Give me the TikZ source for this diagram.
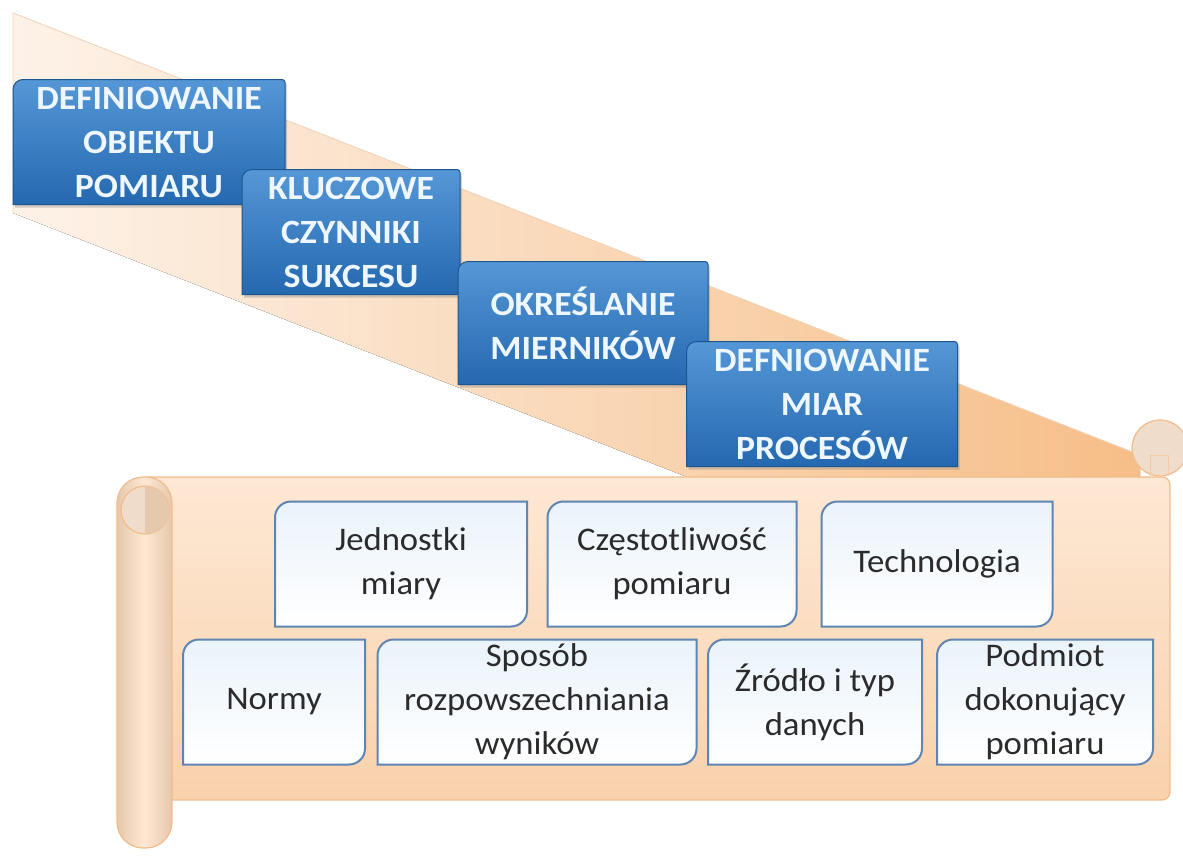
\documentclass[tikz,border=0pt]{standalone}
\usepackage{fontspec}
\setmainfont{Carlito}[FakeStretch=1.05]
\usetikzlibrary{backgrounds, shadows}
\definecolor{boxtop}{HTML}{5597D6}
\definecolor{boxbot}{HTML}{2468B0}
\definecolor{boxedge}{HTML}{1D558F}
\definecolor{stagetext}{HTML}{EEF6FF}
\definecolor{itemedge}{HTML}{5F85B3}
\definecolor{itemtop}{HTML}{EAF3FB}
\definecolor{itemtext}{HTML}{2B2B2B}
\definecolor{bandlight}{HTML}{FDF2E8}
\definecolor{banddark}{HTML}{F6BE88}
\definecolor{scrollfill}{HTML}{FDE8D4}
\definecolor{scrolldark}{HTML}{F9D1AC}
\definecolor{scrolledge}{HTML}{F2BC8A}
\definecolor{rollfill}{HTML}{EFDCCB}
\definecolor{rolldark}{HTML}{E6C8AC}

\tikzset{
  stage/.style={text=stagetext, font=\fontsize{34}{44}\selectfont\bfseries,
    align=center, inner sep=0pt, outer sep=0pt, minimum height=125pt},
  item/.style={text=itemtext, font=\fontsize{33}{44}\selectfont,
    align=center, inner sep=0pt, outer sep=0pt, minimum height=125pt},
  stagebox/.style={draw=boxedge, line width=1pt, top color=boxtop, bottom color=boxbot,
    drop shadow={shadow xshift=2pt, shadow yshift=-3pt, opacity=0.35}},
  itembox/.style={draw=itemedge, line width=2pt, top color=itemtop, bottom color=white},
  rolledge/.style={draw=scrolledge, line width=1.2pt},
}

\begin{document}
\begin{tikzpicture}[x=1pt, y=-1pt]
  \useasboundingbox (0,0) rectangle (1183,855);
  % etapy (niebieskie)
  \node[stage, minimum width=272pt] (defobj) at (149,142) {DEFINIOWANIE\\OBIEKTU\\POMIARU};
  \node[stage, minimum width=218pt] (kcs) at (351,232) {KLUCZOWE\\CZYNNIKI\\SUKCESU};
  \node[stage, minimum width=250pt, minimum height=123pt] (okr) at (583,323) {OKREŚLANIE\\MIERNIKÓW};
  \node[stage, minimum width=271pt] (defmiar) at (822,404) {DEFNIOWANIE\\MIAR\\PROCESÓW};
  % elementy na zwoju
  \node[item, minimum width=252pt] (jedn) at (401,564) {Jednostki\\miary};
  \node[item, minimum width=249pt] (czest) at (672,564) {Częstotliwość\\pomiaru};
  \node[item, minimum width=231pt] (tech) at (937,564) {Technologia};
  \node[item, minimum width=182pt] (normy) at (274,702) {Normy};
  \node[item, minimum width=319pt] (sposob) at (537,702) {Sposób\\rozpowszechniania\\wyników};
  \node[item, minimum width=214pt] (zrodlo) at (815,702) {Źródło i typ\\danych};
  \node[item, minimum width=216pt] (podmiot) at (1045,702) {Podmiot\\dokonujący\\pomiaru};

  \begin{scope}[on background layer]
    % wstega w tle
    \fill[left color=bandlight, right color=banddark]
      (13,13) -- (1140,455) -- (1140,477) -- (687,477) -- (13,213) -- cycle;
    \draw[scrolledge!60, line width=0.8pt] (13,213) -- (13,13) -- (1140,455);
    % zwoj
    \draw[rolledge, top color=scrollfill, bottom color=scrolldark, rounded corners=8pt]
      (140,477) rectangle (1170,800);
    \draw[scrolledge!70, line width=1pt] (150,783) -- (1165,783);
    \draw[rolledge, fill=rollfill] (1160,448) circle[radius=28pt];
    \draw[scrolledge!80, line width=1pt] (1150,476) -- (1150,455) -- (1168,455) -- (1168,476);
    \draw[rolledge, left color=rolldark, right color=rolldark, middle color=scrollfill,
      rounded corners=26pt] (117,477) rectangle (172,848);
    \draw[rolledge, fill=rollfill] (145,510) circle[radius=24pt];
    \fill[rolldark] (145,486) arc[start angle=90, end angle=-90, radius=24pt] -- cycle;
    % ramki etapow
    \foreach \n in {defobj,kcs,okr,defmiar}
      \draw[stagebox] (\n.south west) -- ([yshift=-10pt]\n.north west)
        arc[start angle=180, end angle=90, radius=10pt] -- ([xshift=-3pt]\n.north east)
        arc[start angle=90, end angle=0, radius=3pt] -- (\n.south east) -- cycle;
    % ramki elementow
    \foreach \n in {jedn,czest,tech,normy,sposob,zrodlo,podmiot}
      \draw[itembox] (\n.south west) -- ([yshift=-16pt]\n.north west)
        arc[start angle=180, end angle=90, radius=16pt] -- (\n.north east)
        -- ([yshift=16pt]\n.south east)
        arc[start angle=0, end angle=-90, radius=16pt] -- cycle;
  \end{scope}
\end{tikzpicture}
\end{document}
